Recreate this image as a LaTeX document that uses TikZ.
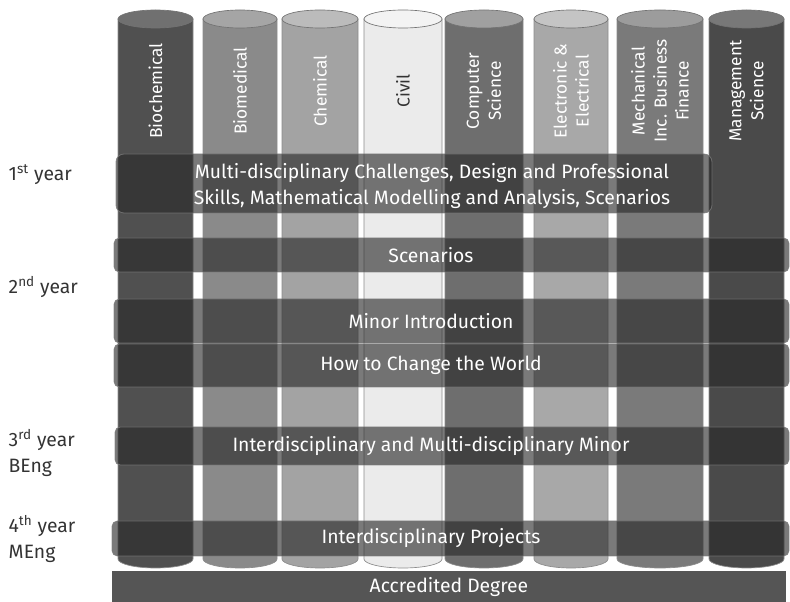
\documentclass[tikz,border=0pt]{standalone}
\usepackage{fontspec}
\setmainfont{Fira Sans}
\usetikzlibrary{positioning}
\definecolor{bandgray}{RGB}{40,40,40}
\definecolor{bandline}{RGB}{120,120,120}
\definecolor{degree}{RGB}{85,85,85}
\definecolor{ink}{RGB}{51,51,51}
\definecolor{pcoal}{RGB}{80,80,80}
\definecolor{pcoaltop}{RGB}{112,112,112}
\definecolor{pstone}{RGB}{138,138,138}
\definecolor{pstonetop}{RGB}{165,165,165}
\definecolor{pash}{RGB}{163,163,163}
\definecolor{pashtop}{RGB}{187,187,187}
\definecolor{pchalk}{RGB}{235,235,235}
\definecolor{pchalktop}{RGB}{243,243,243}
\definecolor{pslate}{RGB}{110,110,110}
\definecolor{pslatetop}{RGB}{160,160,160}
\definecolor{psilver}{RGB}{168,168,168}
\definecolor{psilvertop}{RGB}{196,196,196}
\definecolor{psteel}{RGB}{122,122,122}
\definecolor{psteeltop}{RGB}{156,156,156}
\definecolor{pgraphite}{RGB}{74,74,74}
\definecolor{pgraphitetop}{RGB}{120,120,120}

\tikzset{
  pillar/.style={draw=black!45,line width=0.5pt},
  band/.style={fill=bandgray,fill opacity=0.62,draw=bandline,draw opacity=0.8,line width=0.6pt,rounded corners=4pt},
  bandtext/.style={text=white,font=\fontsize{14.5}{19.5}\selectfont,align=center},
  yearlabel/.style={text=ink,anchor=west,align=left,font=\fontsize{14.5}{20}\selectfont}
}

\begin{document}
\begin{tikzpicture}[x=0.75pt,y=-0.75pt]
  \useasboundingbox (0,0) rectangle (790,602);

  % pillars
  \foreach \nm/\l/\r/\c/\tc/\txt in {
    bioc/118/193/pcoal/white/Biochemical,
    biom/203/277/pstone/white/Biomedical,
    chem/282/358/pash/white/Chemical,
    civil/364/442/pchalk/ink/Civil,
    comp/445/523/pslate/white/{Computer\\Science},
    elec/534/608/psilver/white/{Electronic \&\\Electrical},
    mech/617/703/psteel/white/{Mechanical\\Inc. Business\\Finance},
    mgmt/709/784/pgraphite/white/{Management\\Science}}
  {
    \filldraw[pillar,fill=\c] (\l,19) -- (\l,559)
      arc[start angle=180,end angle=360,x radius={(\r-\l)*0.375pt},y radius=6.75pt]
      -- (\r,19) -- cycle;
    \filldraw[pillar,fill=\c top,draw=black!55] ({(\l+\r)/2},19) ellipse[x radius={(\r-\l)*0.375pt},y radius=6.75pt];
    \node[rotate=90,text=\tc,align=center,font=\fontsize{13}{16.5}\selectfont] (\nm) at ({(\l+\r)/2},91) {\txt};
  }

  % year bands
  \path[band,rounded corners=6pt] (116,154) rectangle (712,213);
  \node[bandtext] (skills) at (432,186) {Multi-disciplinary Challenges, Design and Professional\\Skills, Mathematical Modelling and Analysis, Scenarios};
  \foreach \nm/\xa/\ya/\yb/\txt in {
    scen/114/238/272/Scenarios,
    minor/114/299/343/Minor Introduction,
    world/114/344/387/How to Change the World,
    idmm/115/427/465/Interdisciplinary and Multi-disciplinary Minor,
    proj/112/521/556/Interdisciplinary Projects}
  {
    \path[band] (\xa,\ya) rectangle (789,\yb);
    \node[bandtext] (\nm) at (431,{(\ya+\yb)/2}) {\txt};
  }

  % degree bar
  \fill[degree] (112,571) rectangle (786,602);
  \node[bandtext] (deg) at (449,587) {Accredited Degree};

  % years
  \node[yearlabel] (y1) at (4,175) {1\textsuperscript{st} year};
  \node[yearlabel] (y2) at (4,287) {2\textsuperscript{nd} year};
  \node[yearlabel] (y3) at (4,453) {3\textsuperscript{rd} year\\BEng};
  \node[yearlabel] (y4) at (4,539) {4\textsuperscript{th} year\\MEng};
\end{tikzpicture}
\end{document}
